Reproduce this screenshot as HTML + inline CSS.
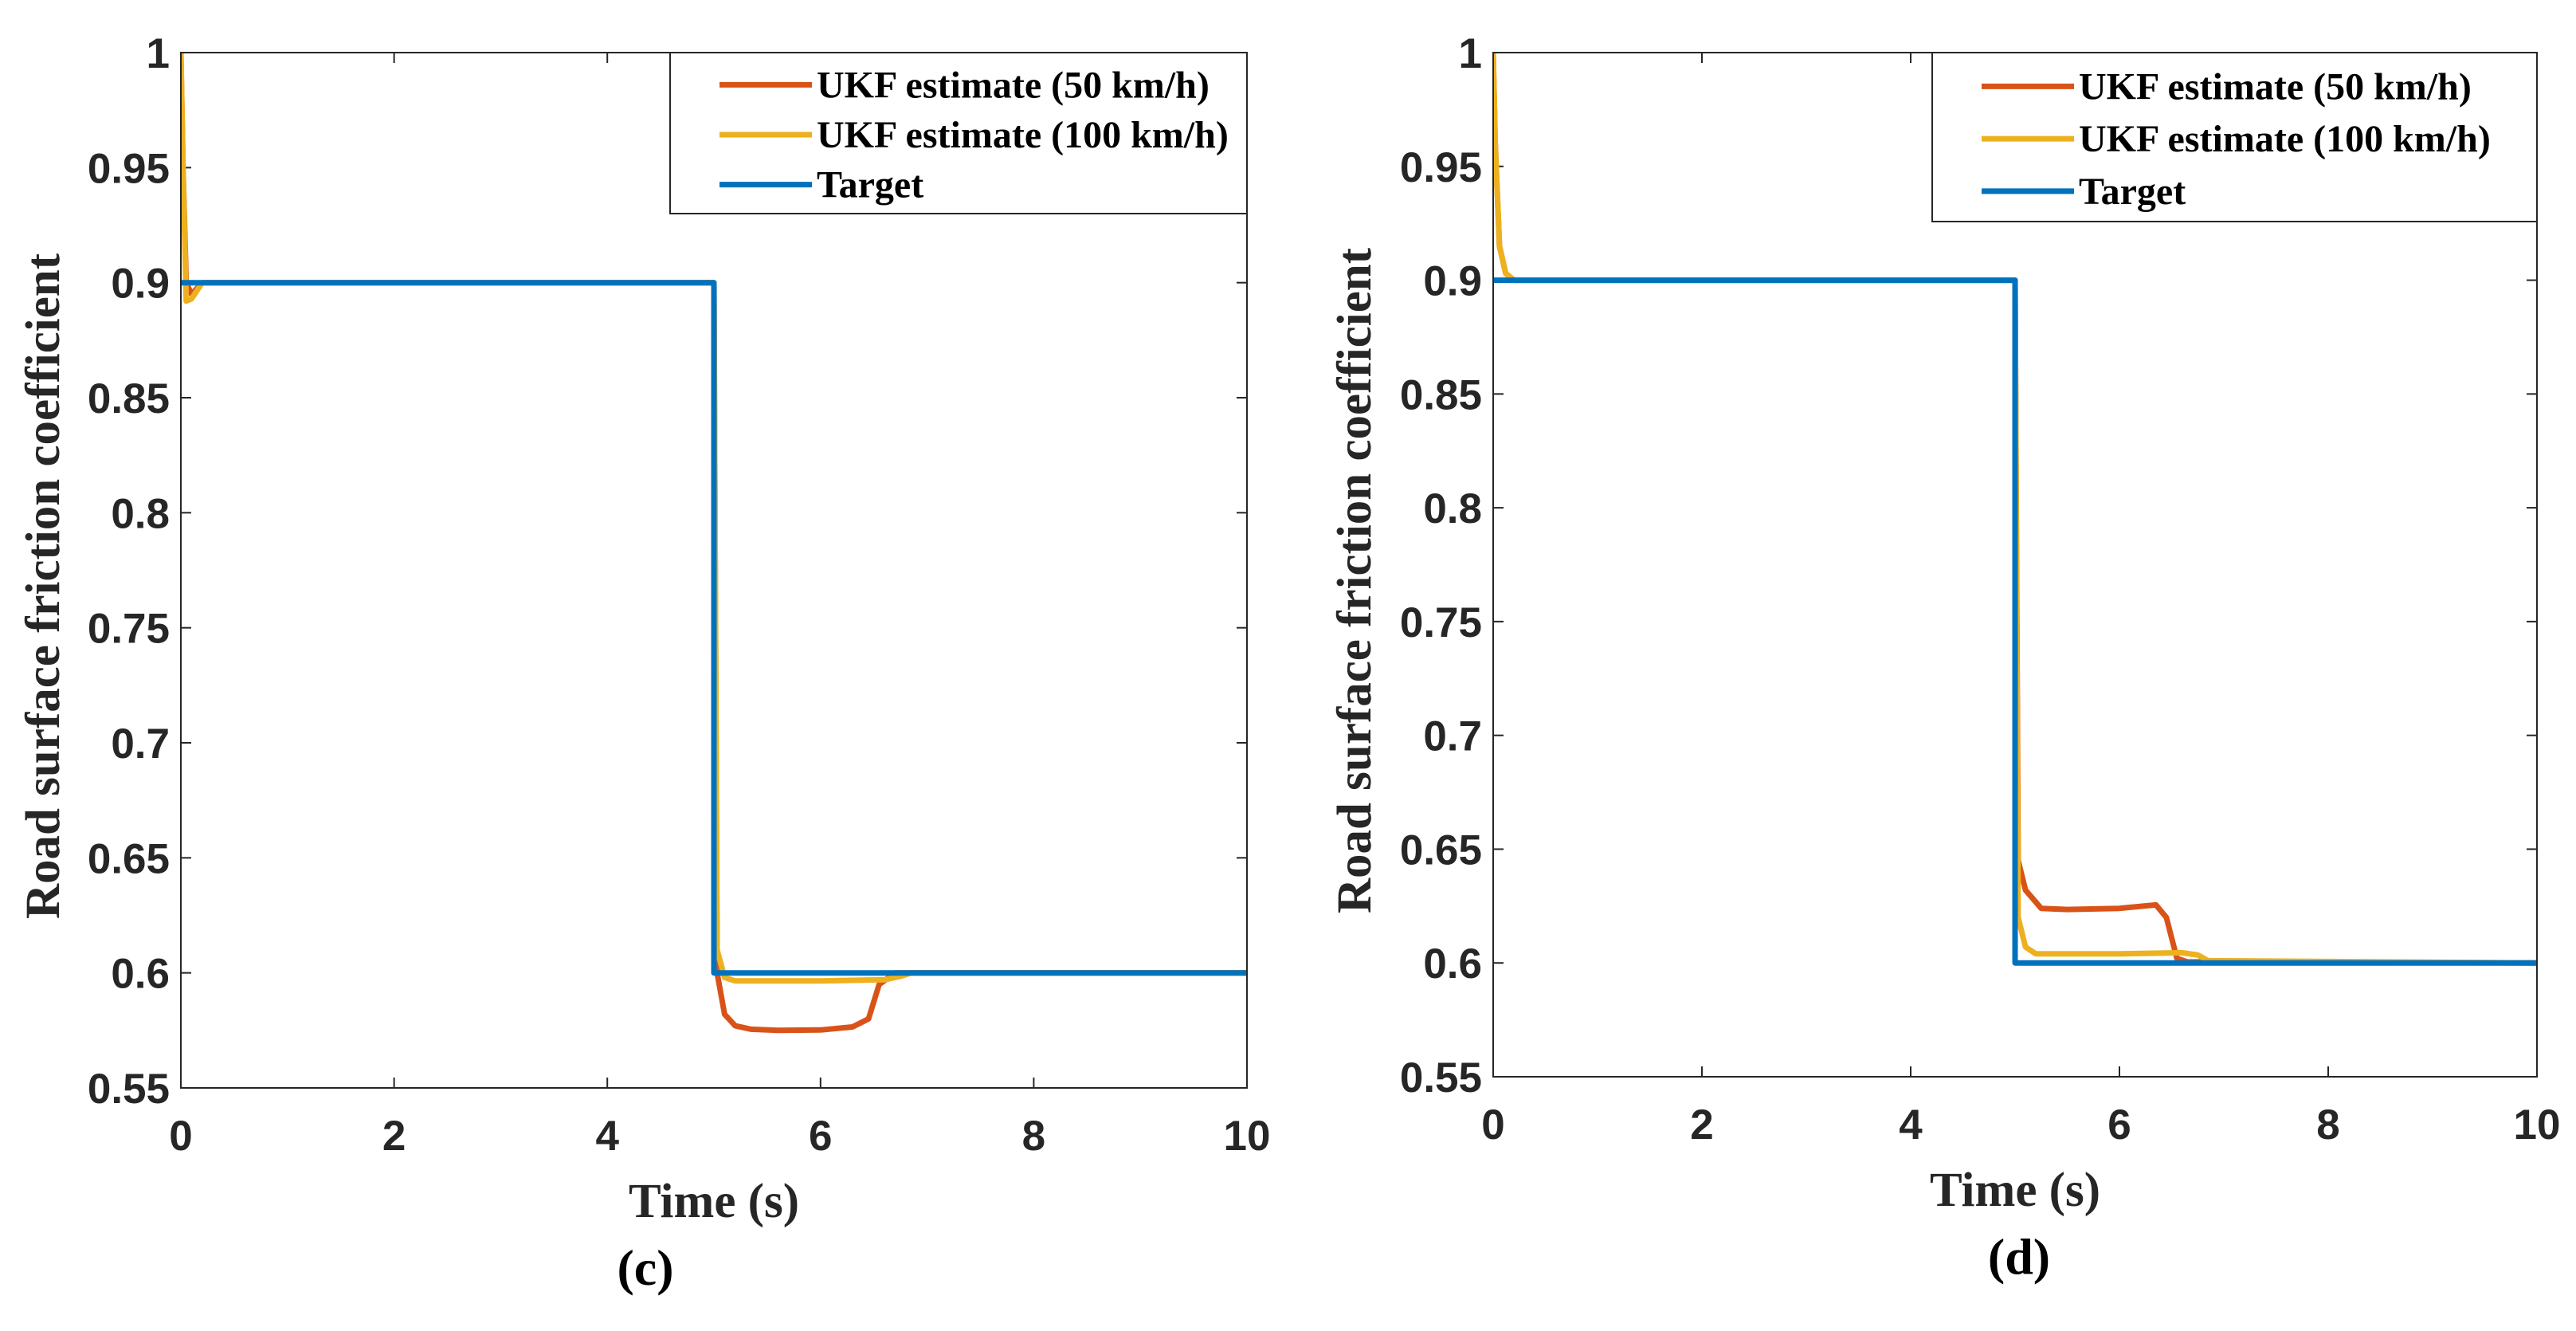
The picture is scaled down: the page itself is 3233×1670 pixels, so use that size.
<!DOCTYPE html>
<html><head><meta charset="utf-8"><style>
html,body{margin:0;padding:0;background:#fff;}
svg{display:block;}
.tick{font-family:"Liberation Sans",sans-serif;font-weight:bold;font-size:53px;fill:#262626;}
.title{font-family:"Liberation Serif",serif;font-weight:bold;font-size:61px;fill:#262626;}
.leg{font-family:"Liberation Serif",serif;font-weight:bold;font-size:48px;fill:#000;}
.cap{font-family:"Liberation Serif",serif;font-weight:bold;font-size:64px;fill:#000;}
</style></head><body>
<svg id="fig" width="3233" height="1670" viewBox="0 0 3233 1670" xmlns="http://www.w3.org/2000/svg"></svg>
<script>
const xTicks=[0,2,4,6,8,10];
const yTicks=[0.55,0.6,0.65,0.7,0.75,0.8,0.85,0.9,0.95,1];
const yTickLabels=["0.55","0.6","0.65","0.7","0.75","0.8","0.85","0.9","0.95","1"];
const seriesNames=["UKF estimate (50 km/h)","UKF estimate (100 km/h)","Target"];
const seriesColors=["#D95319","#EDB120","#0072BD"];
// panel c
const cT50=[0,0.02,0.05,0.1,0.2,4.98,5.0,5.03,5.1,5.2,5.35,5.6,6.0,6.3,6.45,6.55,6.7,10];
const cV50=[1.0,0.95,0.9,0.895,0.9,0.9,0.9,0.6,0.582,0.577,0.5755,0.575,0.5752,0.5765,0.58,0.595,0.6,0.6];
const cT100=[0,0.02,0.05,0.1,0.2,4.98,5.0,5.03,5.1,5.2,6.0,6.6,6.75,6.85,10];
const cV100=[1.0,0.95,0.892,0.893,0.9,0.9,0.9,0.61,0.598,0.5965,0.5965,0.597,0.5985,0.6,0.6];
const cTt=[0,5,5,10];
const cVt=[0.9,0.9,0.6,0.6];
// panel d
const dT50=[0,0.02,0.06,0.12,0.2,4.98,5.0,5.03,5.1,5.25,5.5,6.0,6.35,6.45,6.55,6.65,10];
const dV50=[1.0,0.96,0.915,0.903,0.9,0.9,0.9,0.645,0.632,0.624,0.6235,0.624,0.6255,0.62,0.602,0.6005,0.6];
const dT100=[0,0.02,0.06,0.12,0.2,4.98,5.0,5.03,5.1,5.2,6.0,6.6,6.75,6.85,10];
const dV100=[1.0,0.96,0.915,0.903,0.9,0.9,0.9,0.62,0.607,0.604,0.604,0.6045,0.6035,0.601,0.6];
const dTt=[0,5,5,10];
const dVt=[0.9,0.9,0.6,0.6];

const NS="http://www.w3.org/2000/svg";
const svg=document.getElementById('fig');
function mk(tag,attrs,parent){const e=document.createElementNS(NS,tag);for(const k in attrs)e.setAttribute(k,attrs[k]);(parent||svg).appendChild(e);return e;}

function panel(p){
  const g=mk('g',{});
  
  
  const sx=v=>p.L+(v-0)/(10-0)*(p.R-p.L);
  const sy=v=>p.B-(v-0.55)/(1-0.55)*(p.B-p.T);
  const clip=mk('clipPath',{id:'clip'+p.id},g);
  mk('rect',{x:p.L,y:p.T,width:p.R-p.L,height:p.B-p.T},clip);
  xTicks.forEach(t=>{
    const x=sx(t);
    const l=mk('line',{x1:x,x2:x,y1:p.B,y2:p.B-13,stroke:'#262626','stroke-width':2},g);
    
    
    mk('line',{x1:x,x2:x,y1:p.T,y2:p.T+13,stroke:'#262626','stroke-width':2},g);
    const tx=mk('text',{x:x,y:p.B+78,'text-anchor':'middle',class:'tick'},g);
    tx.textContent=t;
    
    
  });
  yTicks.forEach((t,i)=>{
    const y=sy(t);
    mk('line',{x1:p.L,x2:p.L+13,y1:y,y2:y,stroke:'#262626','stroke-width':2},g);
    mk('line',{x1:p.R,x2:p.R-13,y1:y,y2:y,stroke:'#262626','stroke-width':2},g);
    const tx=mk('text',{x:p.L-14,y:y+19,'text-anchor':'end',class:'tick'},g);
    tx.textContent=yTickLabels[i];
    
    
  });
  const data=[[p.t50,p.v50],[p.t100,p.v100],[p.tt,p.vt]];
  const names=['series-50kmh','series-100kmh','series-target'];
  data.forEach((d,k)=>{
    const pts=d[0].map((t,i)=>sx(t).toFixed(1)+','+sy(d[1][i]).toFixed(1)).join(' ');
    const pl=mk('polyline',{points:pts,fill:'none',stroke:seriesColors[k],'stroke-width':7,'stroke-linejoin':'round','clip-path':'url(#clip'+p.id+')'},g);
    
    
  });
  const ax=mk('rect',{x:p.L,y:p.T,width:p.R-p.L,height:p.B-p.T,fill:'none',stroke:'#262626','stroke-width':2},g);
  
  
  const lg=mk('g',{},g);
  
  
  mk('rect',{x:p.lx,y:p.T,width:p.R-p.lx,height:p.lh,fill:'#fff',stroke:'#262626','stroke-width':2},lg);
  seriesNames.forEach((n,k)=>{
    const y=p.T+p.lh*(0.2+0.31*k);
    const e=mk('g',{},lg);
    
    
    mk('line',{x1:p.lx+62,x2:p.lx+178,y1:y,y2:y,stroke:seriesColors[k],'stroke-width':7},e);
    const tx=mk('text',{x:p.lx+184,y:y+16,class:'leg'},e);
    tx.textContent=n;
  });
  const xt=mk('text',{x:(p.L+p.R)/2,y:p.B+162,'text-anchor':'middle',class:'title'},g);
  xt.textContent='Time (s)';
  
  
  const yx=p.yx, ym=(p.T+p.B)/2+20;
  const yt=mk('text',{x:yx,y:ym,'text-anchor':'middle',class:'title',transform:'rotate(-90 '+yx+' '+ym+')'},g);
  yt.textContent='Road surface friction coefficient';
  
  
  const cp=mk('text',{x:p.cx,y:p.cy,'text-anchor':'middle',class:'cap'},g);
  cp.textContent='('+p.id+')';
  
  
}
panel({id:'c',L:227,R:1565,T:66,B:1365,lx:841,lh:202,yx:74,cx:810,cy:1612,
  t50:cT50,v50:cV50,t100:cT100,v100:cV100,tt:cTt,vt:cVt});
panel({id:'d',L:1874,R:3184,T:66,B:1351,lx:2425,lh:212,yx:1720,cx:2534,cy:1598,
  t50:dT50,v50:dV50,t100:dT100,v100:dV100,tt:dTt,vt:dVt});
</script>
</body></html>
